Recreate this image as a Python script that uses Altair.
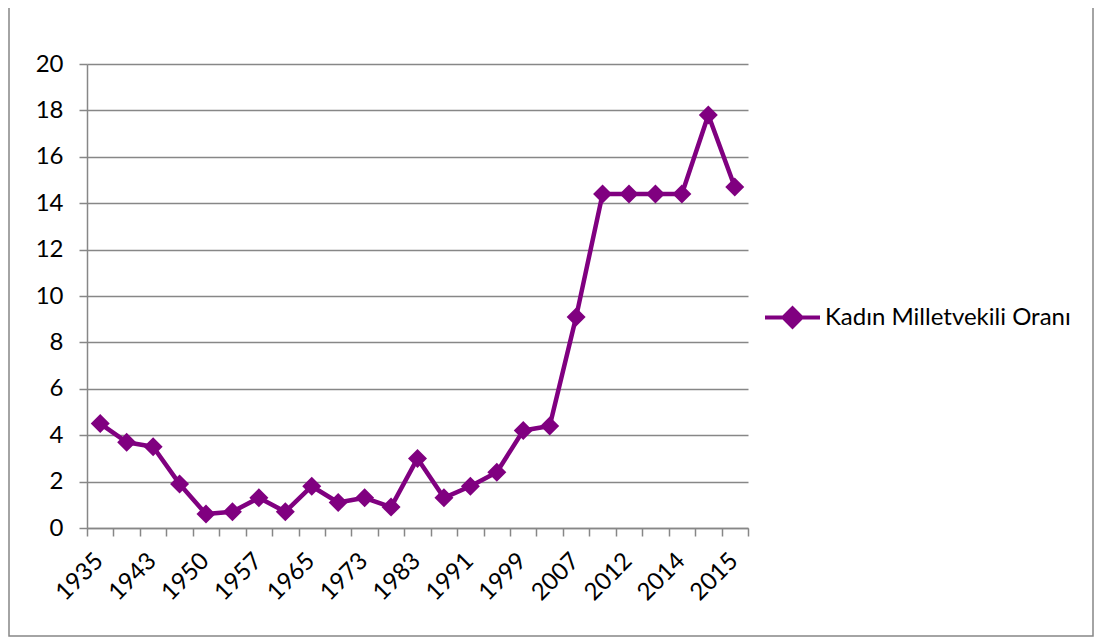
import altair as alt
import pandas as pd

# ---- data ----
yillar = ["1935", "1939", "1943", "1946", "1950", "1954", "1957", "1961",
          "1965", "1969", "1973", "1977", "1983", "1987", "1991", "1995",
          "1999", "2002", "2007", "2011", "2012", "2013", "2014",
          "2015 (Haziran)", "2015"]
oranlar = [4.5, 3.7, 3.5, 1.9, 0.6, 0.7, 1.3, 0.7, 1.8, 1.1, 1.3, 0.9, 3.0,
           1.3, 1.8, 2.4, 4.2, 4.4, 9.1, 14.4, 14.4, 14.4, 14.4, 17.8, 14.7]
seri_adi = "Kadın Milletvekili Oranı"
y_degerleri = [0, 2, 4, 6, 8, 10, 12, 14, 16, 18, 20]

df = pd.DataFrame({"yil": yillar, "oran": oranlar,
                   "seri": [seri_adi] * len(yillar)})
n = len(yillar)

FONT = "Lato"
FS = 24
GRAY = "#878787"
PURPLE = "#800080"

x_enc = alt.X(
    "yil:O", sort=yillar,
    scale=alt.Scale(type="band", paddingInner=0, paddingOuter=0),
    axis=alt.Axis(
        title=None, labelAngle=-45, labelAlign="right", labelBaseline="middle",
        labelExpr=f"round(datum.index*{n - 1}) % 2 == 0 ? datum.label : ''",
        tickBand="extent", tickSize=8, tickColor=GRAY, tickWidth=1.5,
        domainColor=GRAY, domainWidth=1.5, labelPadding=21, labelOffset=-1,
        labelFont=FONT, labelFontSize=FS, labelColor="black", grid=False,
        labelOverlap=False,
    ),
)
y_enc = alt.Y(
    "oran:Q",
    scale=alt.Scale(domain=[0, 20], nice=False),
    axis=alt.Axis(
        title=None, values=y_degerleri, grid=True, gridColor=GRAY,
        gridWidth=1.5, tickSize=8, tickColor=GRAY, tickWidth=1.5,
        domainColor=GRAY, domainWidth=1.5, labelPadding=16,
        labelFont=FONT, labelFontSize=FS, labelColor="black",
    ),
)

line = alt.Chart(df).mark_line(
    color=PURPLE, strokeWidth=4.5, strokeJoin="round"
).encode(x=x_enc, y=y_enc)

points = alt.Chart(df).mark_point(
    shape="diamond", filled=True, size=361, opacity=1
).encode(
    x=x_enc, y=y_enc,
    color=alt.Color(
        "seri:N", scale=alt.Scale(range=[PURPLE]),
        legend=alt.Legend(
            title=None, orient="none", legendX=676, legendY=224,
            symbolType="M-1,0L1,0M-0.33,0L0,-0.33L0.33,0L0,0.33Z",
            symbolSize=3025, symbolStrokeWidth=4, symbolStrokeColor=PURPLE,
            symbolFillColor=PURPLE, symbolOpacity=1,
            labelFont=FONT, labelFontSize=FS, labelColor="black",
            labelLimit=400, labelOffset=3,
        ),
    ),
)

border = alt.Chart(pd.DataFrame({"k": [0]})).mark_rect(
    fillOpacity=0, stroke=GRAY, strokeWidth=1.5
).encode(
    x=alt.value(-78), x2=alt.value(1006), y=alt.value(-80), y2=alt.value(572)
)

chart = alt.layer(border, line, points).properties(
    width=661, height=464,
    padding={"left": 79, "top": 56, "right": 347, "bottom": 110},
    autosize=alt.AutoSizeParams(type="none"),
).configure_view(stroke=None)

chart.save("out.html", embed_options={"renderer": "svg", "actions": False})
